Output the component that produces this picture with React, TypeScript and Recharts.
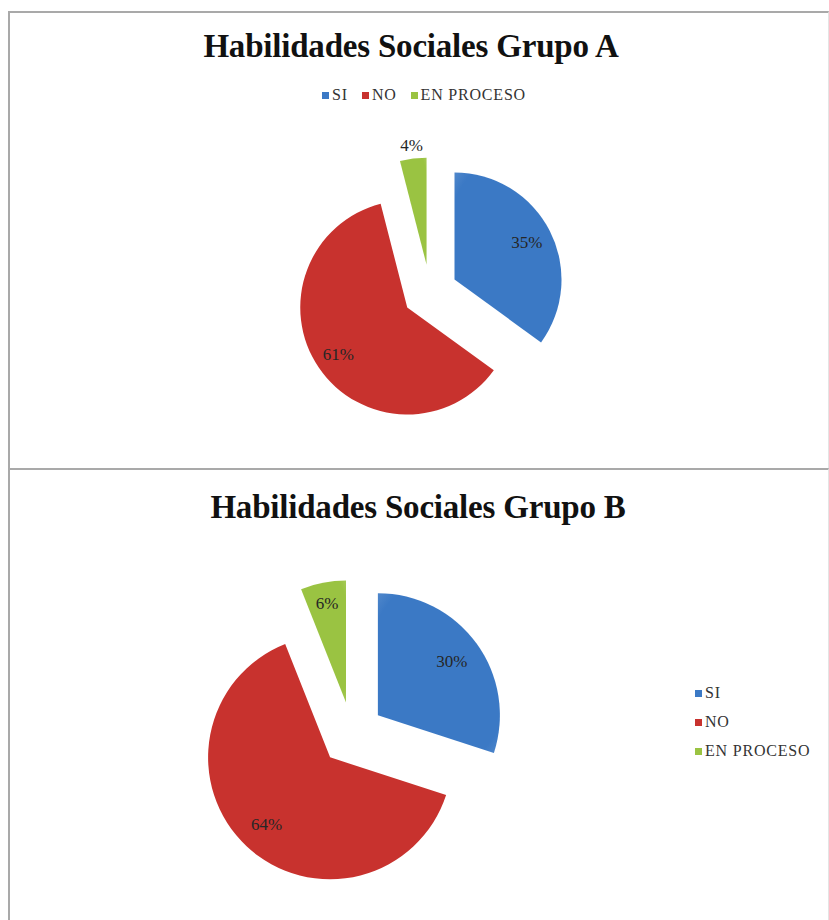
import React from "react";
import { PieChart, Pie, Cell, Legend } from "recharts";

const categories = ["SI", "NO", "EN PROCESO"];
const grupoA = [35, 61, 4];
const grupoB = [30, 64, 6];
const colors = ["#3b79c5", "#c8322e", "#9ac342"];

const serif = '"Liberation Serif", "DejaVu Serif", "Times New Roman", serif';
const RAD = Math.PI / 180;

// one Pie per slice, each shifted outward along its own bisector (exploded look)
function explodedPies(
  id: string,
  values: number[],
  cx: number,
  cy: number,
  r: number,
  offset: number,
  labelR: number[]
) {
  const total = values.reduce((a, b) => a + b, 0);
  const rows = categories.map((name, j) => ({ name, value: values[j] }));
  let acc = 0;
  return values.map((v, i) => {
    const mid = 90 - ((acc + v / 2) / total) * 360;
    acc += v;
    const pcx = cx + offset * Math.cos(mid * RAD);
    const pcy = cy - offset * Math.sin(mid * RAD);
    return (
      <Pie
        key={id + i}
        data={rows}
        dataKey="value"
        nameKey="name"
        cx={pcx}
        cy={pcy}
        outerRadius={r}
        startAngle={90}
        endAngle={-270}
        stroke="none"
        legendType="none"
        isAnimationActive={false}
        labelLine={false}
        label={(p: any) => {
          if (p.index !== i) return null;
          const lr = labelR[i] * r;
          const x = p.cx + lr * Math.cos(-p.midAngle * RAD);
          const y = p.cy + lr * Math.sin(-p.midAngle * RAD);
          return (
            <text
              x={x}
              y={y}
              textAnchor="middle"
              dominantBaseline="central"
              fontFamily={serif}
              fontSize={17}
              fill="#262626"
            >
              {values[i]}%
            </text>
          );
        }}
      >
        {rows.map((_, j) => (
          <Cell key={j} fill={j === i ? `url(#shade${i})` : "transparent"} />
        ))}
      </Pie>
    );
  });
}

// soft darker rim like the office-style shaded pie
const shadeDefs = (
  <defs>
    {colors.map((c, i) => (
      <radialGradient key={i} id={`shade${i}`} cx="50%" cy="50%" r="75%">
        <stop offset="0%" stopColor={c} />
        <stop offset="80%" stopColor={c} />
        <stop offset="100%" stopColor={c} stopOpacity={0.85} />
      </radialGradient>
    ))}
  </defs>
);

const legendItem = (name: string, i: number) => (
  <span
    key={name}
    style={{
      display: "inline-flex",
      alignItems: "center",
      color: "#333",
      fontFamily: serif,
      fontSize: 16,
      letterSpacing: 0.8,
    }}
  >
    <span style={{ width: 7, height: 7, background: colors[i], marginRight: 3, display: "inline-block" }} />
    {name}
  </span>
);

const HorizontalLegend = () => (
  <div style={{ display: "flex", justifyContent: "center", gap: 14 }}>
    {categories.map((c, i) => legendItem(c, i))}
  </div>
);

const VerticalLegend = () => (
  <div style={{ display: "flex", flexDirection: "column", gap: 11 }}>
    {categories.map((c, i) => legendItem(c, i))}
  </div>
);

const titleStyle: React.CSSProperties = {
  position: "absolute",
  left: 0,
  textAlign: "center",
  fontFamily: serif,
  fontWeight: "bold",
  fontSize: 33,
  color: "#111",
  lineHeight: "36px",
  letterSpacing: -0.2,
};

export default function App() {
  return (
    <div style={{ position: "absolute", left: 0, top: 0, width: 829, height: 920, background: "#fff", overflow: "hidden" }}>
      <div
        style={{
          position: "absolute",
          left: 8,
          top: 11,
          width: 818,
          height: 455,
          borderLeft: "2px solid #a9a9a9",
          borderTop: "2px solid #a9a9a9",
          borderRight: "1px solid #e4e4e4",
        }}
      >
        <div style={{ ...titleStyle, top: 15, width: 802 }}>Habilidades Sociales Grupo A</div>
        <PieChart width={818} height={455}>
          {shadeDefs}
          <Legend
            content={<HorizontalLegend />}
            wrapperStyle={{ position: "absolute", top: 73, left: 0, width: 828 }}
          />
          {explodedPies("a", grupoA, 415, 274, 107, 27.5, [0.76, 0.78, 1.12])}
        </PieChart>
      </div>
      <div
        style={{
          position: "absolute",
          left: 8,
          top: 468,
          width: 818,
          height: 452,
          borderLeft: "2px solid #a9a9a9",
          borderTop: "2px solid #a9a9a9",
          borderRight: "1px solid #e4e4e4",
        }}
      >
        <div style={{ ...titleStyle, top: 19, width: 816 }}>Habilidades Sociales Grupo B</div>
        <PieChart width={818} height={452}>
          {shadeDefs}
          <Legend
            content={<VerticalLegend />}
            wrapperStyle={{ position: "absolute", top: 214, left: 685, width: 140 }}
          />
          {explodedPies("b", grupoB, 337, 259, 122, 32, [0.75, 0.76, 0.83])}
        </PieChart>
      </div>
    </div>
  );
}
